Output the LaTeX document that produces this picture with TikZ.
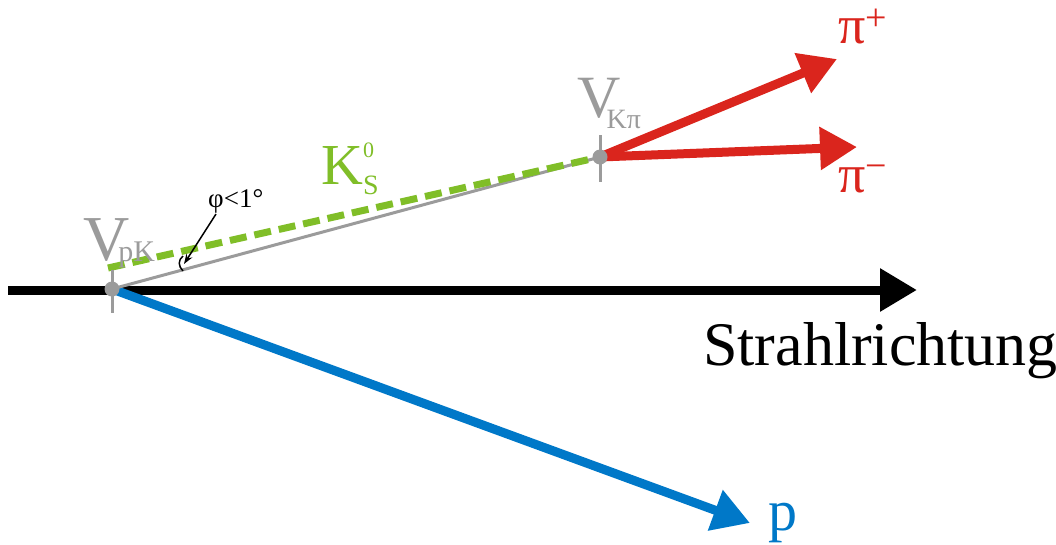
\documentclass[tikz,border=0pt]{standalone}
\usepackage{fontspec}
\setmainfont{Liberation Serif}
\usepackage{xcolor}
\usetikzlibrary{positioning, arrows.meta, calc}

\definecolor{vertexgrey}{RGB}{155,155,155}
\definecolor{kaongreen}{RGB}{128,190,40}
\definecolor{pionred}{RGB}{218,37,29}
\definecolor{protonblue}{RGB}{0,120,200}

\newcommand{\fsz}[1]{\fontsize{#1}{#1}\selectfont}

\begin{document}
\begin{tikzpicture}[x=1pt, y=-1pt,
    vertex/.style={circle, fill=vertexgrey, inner sep=0pt, minimum size=15pt},
    tickmark/.style={draw=vertexgrey, line width=3pt},
    track/.style={line width=9pt, -{Triangle[length=37pt, width=41pt]}},
    flight/.style={draw=vertexgrey, line width=3pt},
    kaon/.style={draw=kaongreen, line width=7pt, dash pattern=on 17pt off 8pt},
    txt/.style={inner sep=0pt, anchor=base west},
    pointer/.style={line width=1.5pt, -{Stealth[length=10pt, width=7pt]}}
]
\useasboundingbox (0,0) rectangle (1056,544);

% Vertices and track ends
\coordinate (vpk) at (112,289);
\coordinate (vkpi) at (600,157);
\coordinate (beamstart) at (8,290);
\coordinate (beamend) at (917,290);
\coordinate (kstart) at (108,268);
\coordinate (piplus) at (837,59);
\coordinate (piminus) at (857,147);
\coordinate (ptip) at (750,523);

% Beam
\draw[track, black] (beamstart) -- (beamend);
\node[txt] (strahl) at (703,365) {\fsz{62}Strahlrichtung};

% Proton
\draw[track, protonblue] (vpk) -- (ptip);
\node[txt, text=protonblue] (ptext) at (768,530) {\fsz{58}p};

% Kaon flight path
\draw[flight] (vpk) -- (vkpi);
\draw[kaon] (kstart) -- (vkpi);
\node[txt, text=kaongreen] (ktext) at (321,184) {\fsz{58}K};
\node[txt, text=kaongreen] (ksup) at (363,157) {\fsz{22}0};
\node[txt, text=kaongreen] (ksub) at (363,194) {\fsz{28}S};

% Pions
\draw[track, pionred] (vkpi) -- (piplus);
\draw[track, pionred] (vkpi) -- (piminus);
\node[txt, text=pionred] (piplustext) at (838,43)
    {\fsz{54}π\raisebox{13pt}{\fsz{38}+}};
\node[txt, text=pionred] (piminustext) at (838,192)
    {\fsz{54}π\raisebox{14pt}{\fsz{38}−}};

% Vertex marks
\draw[tickmark] (112,270) -- (112,313);
\draw[tickmark] (600,135) -- (600,182);
\node[vertex] (vpkdot) at (vpk) {};
\node[vertex] (vkpidot) at (vkpi) {};
\node[txt, text=vertexgrey] (vpktext) at (83,260)
    {\fsz{64}V\kern-11pt\raisebox{-1pt}{\fsz{30}pK}};
\node[txt, text=vertexgrey] (vkpitext) at (577,117)
    {\fsz{60}V\kern-14pt\raisebox{-11pt}{\fsz{28}Kπ}};

% Opening angle
\coordinate (phitail) at (216,214);
\coordinate (phitip) at (184,264);
\node[txt] (phitext) at (208,207) {\fsz{27}φ<1°};
\draw[pointer] (phitail) -- (phitip);
\draw[line width=1.5pt] (183,271) .. controls (178,266) and (178,260) .. (183,256);

\end{tikzpicture}
\end{document}
